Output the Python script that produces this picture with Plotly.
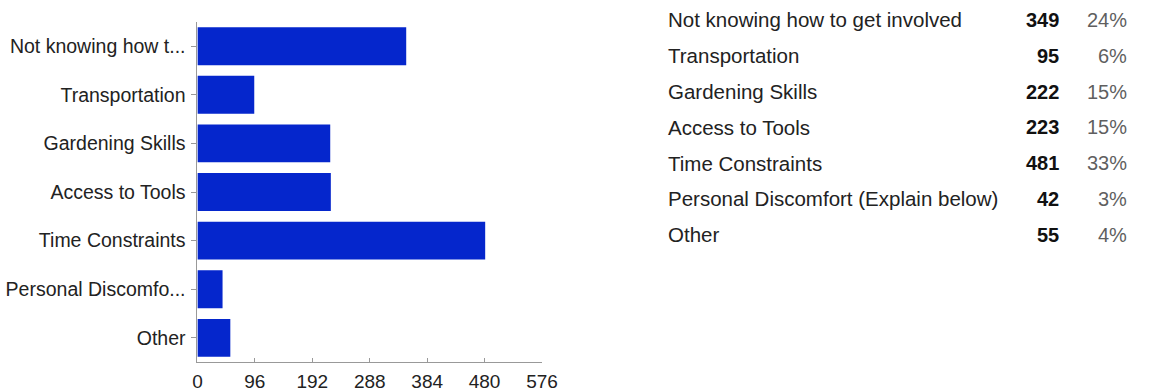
import plotly.graph_objects as go

categories = ["Not knowing how to get involved", "Transportation", "Gardening Skills",
              "Access to Tools", "Time Constraints", "Personal Discomfort (Explain below)", "Other"]
axis_labels = ["Not knowing how t...", "Transportation", "Gardening Skills",
               "Access to Tools", "Time Constraints", "Personal Discomfo...", "Other"]
counts = [349, 95, 222, 223, 481, 42, 55]
percents = ["24%", "6%", "15%", "15%", "33%", "3%", "4%"]
x_ticks = [0, 96, 192, 288, 384, 480, 576]

W, H = 1151, 392
FONT = "Liberation Sans, Arial, sans-serif"
BAR = "#0526cc"
AXIS = "#999999"

fig = go.Figure(go.Bar(
    y=axis_labels, x=counts, orientation="h",
    marker=dict(color=BAR, line=dict(width=0)),
    hoverinfo="skip",
))

fig.update_layout(
    width=W, height=H, autosize=False,
    margin=dict(l=0, r=0, t=0, b=0),
    paper_bgcolor="white", plot_bgcolor="white",
    showlegend=False,
    bargap=0.22,
    font=dict(family=FONT, size=20, color="#222222"),
    xaxis=dict(
        domain=[196 / W, 547 / W],
        range=[0, 576], tickvals=x_ticks, ticktext=[str(v) for v in x_ticks],
        showgrid=False, zeroline=False,
        showline=True, linecolor=AXIS, linewidth=1,
        ticks="inside", ticklen=4, tickcolor=AXIS,
        ticklabelstandoff=2,
        tickfont=dict(size=19, color="#222222"),
        fixedrange=True,
    ),
    yaxis=dict(
        domain=[1 - 364 / H, 1 - 22 / H],
        autorange="reversed", type="category",
        showgrid=False, zeroline=False,
        showline=True, linecolor=AXIS, linewidth=1,
        ticks="outside", ticklen=5, tickcolor=AXIS,
        ticklabelstandoff=2,
        tickfont=dict(size=19.5, color="#222222"),
        fixedrange=True,
    ),
)

row0, pitch = 20, 36
for i, (name, c, p) in enumerate(zip(categories, counts, percents)):
    yy = 1 - (row0 + pitch * i) / H
    fig.add_annotation(x=673 / W, y=yy, xref="paper", yref="paper", text=name,
                       showarrow=False, xanchor="left", yanchor="middle",
                       font=dict(family=FONT, size=20.5, color="#222222"))
    fig.add_annotation(x=1076 / W, y=yy, xref="paper", yref="paper", text="<b>%d</b>" % c,
                       showarrow=False, xanchor="right", yanchor="middle",
                       font=dict(family=FONT, size=20, color="#111111"))
    fig.add_annotation(x=1145 / W, y=yy, xref="paper", yref="paper", text=p,
                       showarrow=False, xanchor="right", yanchor="middle",
                       font=dict(family=FONT, size=20, color="#5f5f5f"))

post = (
    "document.body.style.margin='0';document.body.style.overflow='hidden';"
    "var gd=document.getElementById('{plot_id}');"
    "gd.style.width='1151px';gd.style.height='392px';"
    "Plotly.relayout(gd,{width:1151,height:392});"
)
fig.write_html("out.html", config={"displayModeBar": False, "responsive": False},
               post_script=post)
